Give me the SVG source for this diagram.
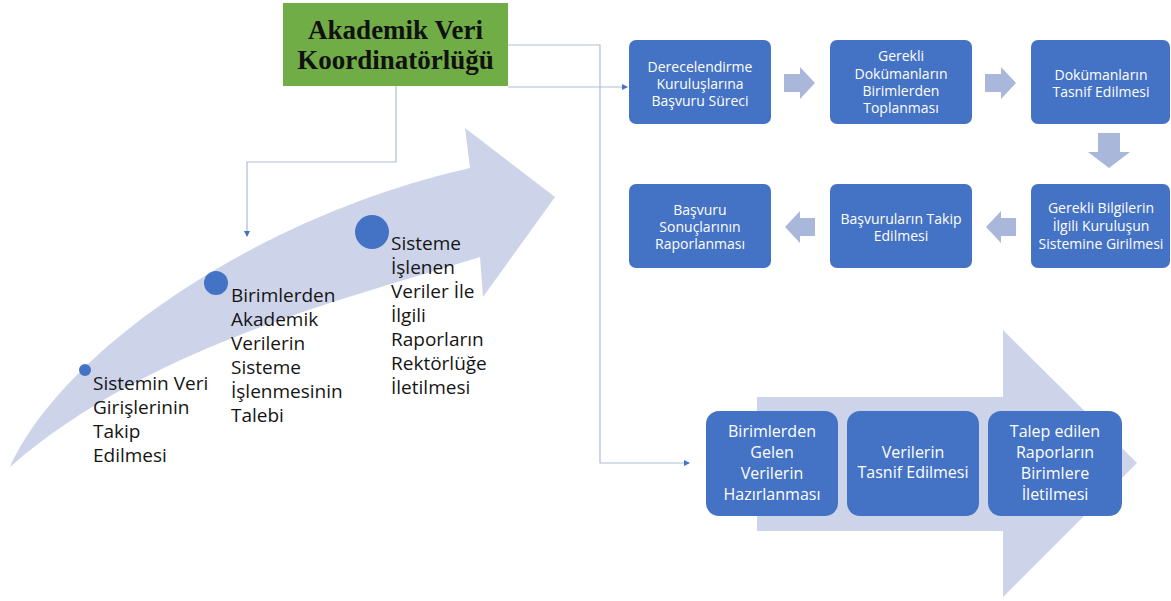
<svg xmlns="http://www.w3.org/2000/svg" width="1171" height="601" viewBox="0 0 1171 601">
<defs>
<style>
.box{fill:#4472C4;}
.bt{font-family:"Open Sans","Liberation Sans",sans-serif;font-size:14px;fill:#ffffff;text-anchor:middle;}
.lt{font-family:"Open Sans","Liberation Sans",sans-serif;font-size:16px;fill:#ffffff;text-anchor:middle;}
.ct{font-family:"Open Sans","Liberation Sans",sans-serif;font-size:19px;fill:#151515;}
.sm{fill:#A9B7DB;}
.big{fill:#CDD4EA;}
.con{fill:none;stroke:#AFBCD3;stroke-width:1.2;}
.dot{fill:#4472C4;}
</style>
<marker id="ah" markerWidth="6" markerHeight="6" refX="5" refY="3" orient="auto" markerUnits="userSpaceOnUse">
<path d="M0,0 L6,3 L0,6 z" fill="#4472C4"/>
</marker>
</defs>
<rect width="1171" height="601" fill="#ffffff"/>

<g id="curved-arrow">
<path class="big" d="M10,467 C 60,355 250,218 470,168 L465,128 L555,197 L483,297 L480,257 C 350,298 150,345 10,467 Z"/>
</g>

<g id="lower-arrow">
<path class="big" d="M757,397 L1003,397 L1003,330 L1137,463 L1003,597 L1003,531 L757,531 Z"/>
</g>

<g id="connectors">
<path class="con" d="M508,45 H600 V463 H689" marker-end="url(#ah)"/>
<path class="con" d="M508,87 H627" marker-end="url(#ah)"/>
<path class="con" d="M396,86 V162 H247 V236" marker-end="url(#ah)"/>
</g>

<g id="koordinatorluk">
<rect x="283" y="3" width="225" height="83" fill="#70AD47"/>
<text x="395.5" y="39" font-family="Liberation Serif, serif" font-weight="bold" font-size="27" fill="#111111" text-anchor="middle">Akademik Veri</text>
<text x="395.5" y="69" font-family="Liberation Serif, serif" font-weight="bold" font-size="27" fill="#111111" text-anchor="middle">Koordinatörlüğü</text>
</g>

<g id="step-arrows">
<path class="sm" d="M784,74 H800 V67 L815,83 L800,99 V92 H784 Z"/>
<path class="sm" d="M985,74 H1001 V67 L1016,83 L1001,99 V92 H985 Z"/>
<path class="sm" d="M1098,133 H1120 V152 H1130 L1109,168 L1088,152 H1098 Z"/>
<path class="sm" d="M1016,218 H1001 V211 L986,227 L1001,243 V236 H1016 Z"/>
<path class="sm" d="M815,218 H800 V211 L785,227 L800,243 V236 H815 Z"/>
</g>

<g id="n1">
<rect class="box" x="629" y="40" width="142" height="84" rx="7"/>
<text class="bt" x="700" y="72">Derecelendirme</text>
<text class="bt" x="700" y="89">Kuruluşlarına</text>
<text class="bt" x="700" y="106">Başvuru Süreci</text>
</g>
<g id="n2">
<rect class="box" x="830" y="40" width="142" height="84" rx="7"/>
<text class="bt" x="901" y="61">Gerekli</text>
<text class="bt" x="901" y="79">Dokümanların</text>
<text class="bt" x="901" y="96">Birimlerden</text>
<text class="bt" x="901" y="113">Toplanması</text>
</g>
<g id="n3">
<rect class="box" x="1031" y="40" width="139" height="84" rx="7"/>
<text class="bt" x="1101" y="80">Dokümanların</text>
<text class="bt" x="1101" y="97">Tasnif Edilmesi</text>
</g>
<g id="n4">
<rect class="box" x="1031" y="184" width="139" height="84" rx="7"/>
<text class="bt" x="1101" y="213">Gerekli Bilgilerin</text>
<text class="bt" x="1101" y="231">İlgili Kuruluşun</text>
<text class="bt" x="1101" y="249">Sistemine Girilmesi</text>
</g>
<g id="n5">
<rect class="box" x="830" y="184" width="142" height="84" rx="7"/>
<text class="bt" x="901" y="224">Başvuruların Takip</text>
<text class="bt" x="901" y="241">Edilmesi</text>
</g>
<g id="n6">
<rect class="box" x="629" y="184" width="142" height="84" rx="7"/>
<text class="bt" x="700" y="215">Başvuru</text>
<text class="bt" x="700" y="232">Sonuçlarının</text>
<text class="bt" x="700" y="249">Raporlanması</text>
</g>

<g id="n7">
<rect class="box" x="706" y="411" width="132" height="105" rx="13"/>
<text class="lt" x="772" y="437">Birimlerden</text>
<text class="lt" x="772" y="458">Gelen</text>
<text class="lt" x="772" y="479">Verilerin</text>
<text class="lt" x="772" y="500">Hazırlanması</text>
</g>
<g id="n8">
<rect class="box" x="847" y="411" width="132" height="105" rx="13"/>
<text class="lt" x="913" y="458">Verilerin</text>
<text class="lt" x="913" y="478">Tasnif Edilmesi</text>
</g>
<g id="n9">
<rect class="box" x="988" y="411" width="134" height="105" rx="13"/>
<text class="lt" x="1055" y="437">Talep edilen</text>
<text class="lt" x="1055" y="458">Raporların</text>
<text class="lt" x="1055" y="479">Birimlere</text>
<text class="lt" x="1055" y="500">İletilmesi</text>
</g>

<g id="s1">
<circle class="dot" cx="85" cy="370" r="6"/>
<text class="ct" x="93" y="390">Sistemin Veri</text>
<text class="ct" x="93" y="414">Girişlerinin</text>
<text class="ct" x="93" y="438">Takip</text>
<text class="ct" x="93" y="462">Edilmesi</text>
</g>
<g id="s2">
<circle class="dot" cx="216" cy="283" r="12"/>
<text class="ct" x="231" y="302">Birimlerden</text>
<text class="ct" x="231" y="326">Akademik</text>
<text class="ct" x="231" y="350">Verilerin</text>
<text class="ct" x="231" y="374">Sisteme</text>
<text class="ct" x="231" y="398">İşlenmesinin</text>
<text class="ct" x="231" y="422">Talebi</text>
</g>
<g id="s3">
<circle class="dot" cx="372" cy="232" r="17"/>
<text class="ct" x="391" y="250">Sisteme</text>
<text class="ct" x="391" y="274">İşlenen</text>
<text class="ct" x="391" y="298">Veriler İle</text>
<text class="ct" x="391" y="322">İlgili</text>
<text class="ct" x="391" y="346">Raporların</text>
<text class="ct" x="391" y="370">Rektörlüğe</text>
<text class="ct" x="391" y="394">İletilmesi</text>
</g>
</svg>
